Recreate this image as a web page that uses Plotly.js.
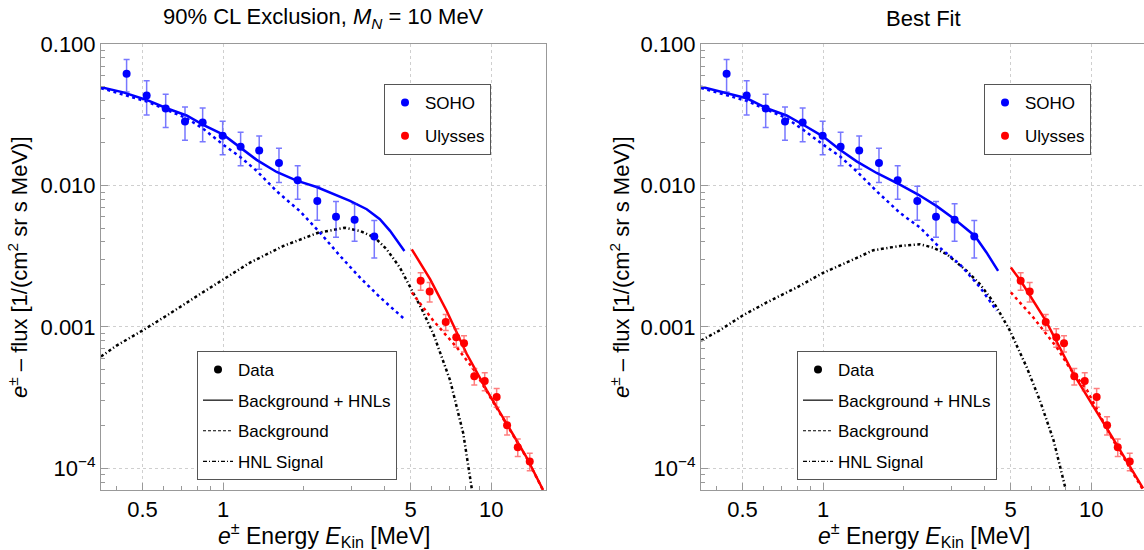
<!DOCTYPE html>
<html>
<head>
<meta charset="utf-8">
<script src="https://cdn.plot.ly/plotly-3.0.1.min.js"></script>
<style>
html,body{margin:0;padding:0;overflow:hidden;background:#fff;}
#chart{width:1150px;height:550px;}
</style>
</head>
<body>
<div id="chart"></div>
<script>
// ---------- Data ----------
const sohoE    = [0.436,0.518,0.610,0.720,0.838,0.995,1.161,1.362,1.614,1.895,2.243,2.634,3.09,3.66];
const sohoFlux = [0.0618,0.0433,0.0350,0.0284,0.0279,0.0225,0.01883,0.01773,0.01442,0.01090,0.00779,0.00601,0.00573,0.00437];
const sohoErr  = [0.016,0.0117,0.0093,0.0075,0.0075,0.006,0.005,0.0047,0.0039,0.0029,0.0021,0.0017,0.0017,0.0013];

const ulyE    = [5.45,5.89,6.76,7.40,7.91,8.64,9.45,10.47,11.45,12.55,13.91];
const ulyFlux = [0.00212,0.001782,0.001084,0.000845,0.000766,0.000449,0.000414,0.000319,0.000202,0.0001413,0.000112];
const ulyErr  = [0.0003,0.00028,0.00014,0.000125,0.0001,0.00006,0.00006,0.000048,0.00003,0.00002,0.000016];

// Left panel: 90% CL exclusion, M_N = 10 MeV
const exclTotSohoE = [0.35,0.424,0.518,0.615,0.730,0.842,1.0,1.154,1.332,1.582,1.879,2.23,2.573,2.97,3.43,3.84,4.19,4.50,4.74];
const exclTotSohoF = [0.0495,0.0456,0.0403,0.0352,0.0313,0.0269,0.0229,0.0186,0.0152,0.01247,0.01084,0.00977,0.0087,0.0078,0.0068,0.00578,0.00478,0.00400,0.00345];
const exclBgSohoE  = [0.35,0.518,0.615,0.730,0.842,1.0,1.154,1.332,1.582,1.932,2.297,2.727,3.24,3.85,4.74];
const exclBgSohoF  = [0.0489,0.0393,0.0343,0.0299,0.0252,0.01945,0.0160,0.0127,0.00912,0.00659,0.00464,0.00318,0.00223,0.001616,0.001137];
const exclSigE = [0.35,0.400,0.499,0.615,0.819,1.003,1.258,1.675,2.26,2.845,3.24,3.68,4.07,4.56,4.98,5.50,6.08,7.02,7.86,8.45];
const exclSigF = [0.000618,0.000738,0.000942,0.001202,0.001707,0.00218,0.00285,0.003737,0.00464,0.00503,0.00477,0.00428,0.00354,0.00263,0.00190,0.00134,0.000893,0.000419,0.0001764,0.0000723];
const exclTotUlyE = [5.05,5.91,6.81,8.09,9.62,11.4,13.5,15.6];
const exclTotUlyF = [0.00354,0.00218,0.001303,0.000646,0.000356,0.0002075,0.0001208,0.0000703];
const exclBgUlyE  = [5.05,6.08,7.43,8.6,9.62,11.4,13.5,15.6];
const exclBgUlyF  = [0.001754,0.001107,0.000718,0.00050,0.000350,0.000205,0.000120,0.0000700];

// Right panel: best fit
const bfTotSohoE = [0.35,0.518,0.615,0.730,0.842,1.0,1.154,1.332,1.582,1.932,2.26,2.65,3.10,3.68,4.07,4.49];
const bfTotSohoF = [0.050,0.0414,0.0352,0.0313,0.0269,0.0222,0.0179,0.01483,0.01227,0.01016,0.00864,0.00715,0.00576,0.0044,0.00335,0.00249];
const bfBgSohoE  = [0.35,0.518,0.730,0.842,1.0,1.154,1.332,1.582,1.932,2.30,2.72,3.23,3.85,4.44];
const bfBgSohoF  = [0.0489,0.0397,0.0299,0.0248,0.01945,0.0161,0.01261,0.00912,0.00641,0.00503,0.00364,0.00278,0.0019,0.0013];
const bfSigE = [0.35,0.409,0.499,0.615,0.796,1.003,1.258,1.536,1.932,2.296,2.573,2.89,3.43,3.84,4.19,4.44,4.97,5.74,6.43,7.23,7.98];
const bfSigF = [0.000801,0.000942,0.0012,0.00149,0.0019,0.002424,0.002927,0.003485,0.003737,0.00384,0.00364,0.00327,0.00249,0.00201,0.001616,0.001374,0.000942,0.000519,0.000302,0.000158,0.0000742];
const bfTotUlyE = [5.01,5.45,6.76,8.57,11.9,15.6];
const bfTotUlyF = [0.00263,0.00212,0.001108,0.000467,0.000169,0.0000723];
const bfBgUlyE  = [5.01,6.07,7.43,8.34,9.62,11.9,15.6];
const bfBgUlyF  = [0.001754,0.00117,0.000718,0.000506,0.00036,0.000165,0.0000705];

// Ticks
const xTickVals = [0.5,1,5,10];
const xTickText = ['0.5','1','5','10'];
const xMinor = [0.4,0.6,0.7,0.8,0.9,2,3,4,6,7,8,9];
const yTickVals = [1e-4,1e-3,1e-2,1e-1];
const yTickText = ['10<sup>−4</sup>','0.001','0.010','0.100'];
const yMinor = [];
[1e-5,1e-4,1e-3,1e-2].forEach(d => { for (let k=2;k<=9;k++) yMinor.push(k*d); });

const panelTitles = ['90% CL Exclusion, <i>M</i><sub><i>N</i></sub> = 10 MeV', 'Best Fit'];
const legendNames = ['SOHO','Ulysses','Data','Background + HNLs','Background','HNL Signal'];

// ---------- Styles ----------
const BLUE = 'rgb(0,0,255)', RED = 'rgb(255,0,0)';
const DOT = '3px,3.5px';
const DASHDOT = '3px,2.5px,1.2px,2.5px';
const FONT = 'Liberation Sans, Arial, Helvetica, sans-serif';
const TXT = 22;

function line(x, y, color, dash, xa, ya) {
  return {x:x, y:y, type:'scatter', mode:'lines', xaxis:xa, yaxis:ya, showlegend:false,
          hoverinfo:'skip', line:{color:color, width:2.5, dash:dash}};
}
function pts(x, y, err, color, xa, ya) {
  return {x:x, y:y, type:'scatter', mode:'markers', xaxis:xa, yaxis:ya, showlegend:false,
          marker:{color:color, size:8},
          error_y:{type:'data', array:err, visible:true, color:color==BLUE?'rgba(30,30,255,0.6)':'rgba(255,40,40,0.6)', thickness:1.5, width:3}};
}
function legMarker(name, color, leg, grp) {
  return {x:[null], y:[null], type:'scatter', mode:'markers', name:name, legend:leg, legendgroup:grp,
          marker:{color:color, size:8}};
}
function legLine(name, dash, leg, grp) {
  return {x:[null], y:[null], type:'scatter', mode:'lines', name:name, legend:leg, legendgroup:grp,
          line:{color:'black', width:1.2, dash:dash}};
}

const traces = [];
function panel(xa, ya, bgS, bgSF, totS, totSF, sig, sigF, bgU, bgUF, totU, totUF, legA, legB) {
  traces.push(line(sig, sigF, 'black', DASHDOT, xa, ya));
  traces.push(line(bgS, bgSF, BLUE, DOT, xa, ya));
  traces.push(line(bgU, bgUF, RED, DOT, xa, ya));
  traces.push(line(totS, totSF, BLUE, 'solid', xa, ya));
  traces.push(line(totU, totUF, RED, 'solid', xa, ya));
  traces.push(pts(sohoE, sohoFlux, sohoErr, BLUE, xa, ya));
  traces.push(pts(ulyE, ulyFlux, ulyErr, RED, xa, ya));
  traces.push(legMarker(legendNames[0], BLUE, legA, legA+'a'));
  traces.push(legMarker(legendNames[1], RED, legA, legA+'b'));
  traces.push(legMarker(legendNames[2], 'black', legB, legB+'a'));
  traces.push(legLine(legendNames[3], 'solid', legB, legB+'b'));
  traces.push(legLine(legendNames[4], '3px,2px', legB, legB+'c'));
  traces.push(legLine(legendNames[5], '4px,2px,1px,2px', legB, legB+'d'));
}
panel('x','y', exclBgSohoE, exclBgSohoF, exclTotSohoE, exclTotSohoF, exclSigE, exclSigF,
      exclBgUlyE, exclBgUlyF, exclTotUlyE, exclTotUlyF, 'legend','legend2');
panel('x2','y2', bfBgSohoE, bfBgSohoF, bfTotSohoE, bfTotSohoF, bfSigE, bfSigF,
      bfBgUlyE, bfBgUlyF, bfTotUlyE, bfTotUlyF, 'legend3','legend4');

// ---------- Layout ----------
const W = 1150, H = 550, ML = 101, MR = 4, MT = 44, MB = 60;
const PW = W - ML - MR, PH = H - MT - MB;
const px2x = p => (p - ML) / PW;
const py2y = p => 1 - (p - MT) / PH;

function xAxis(domain, anchor) {
  return {type:'log', domain:domain, anchor:anchor, range:[-0.456, 1.204],
    tickmode:'array', tickvals:xTickVals, ticktext:xTickText, ticks:'inside', ticklen:7, tickwidth:1,
    tickcolor:'#999', showline:true, linecolor:'#999', linewidth:1, mirror:true,
    showgrid:true, gridcolor:'#cfcfcf', griddash:'3px,3px', gridwidth:1, zeroline:false,
    tickfont:{family:FONT, size:TXT, color:'black'},
    minor:{tickmode:'array', tickvals:xMinor, ticks:'inside', ticklen:4, tickcolor:'#999', showgrid:false}};
}
function yAxis(anchor) {
  return {type:'log', domain:[0,1], anchor:anchor, range:[-4.153, -0.999],
    tickmode:'array', tickvals:yTickVals, ticktext:yTickText, ticks:'inside', ticklen:7, tickwidth:1,
    tickcolor:'#999', showline:true, linecolor:'#999', linewidth:1, mirror:true,
    showgrid:true, gridcolor:'#cfcfcf', griddash:'3px,3px', gridwidth:1, zeroline:false,
    tickfont:{family:FONT, size:TXT, color:'black'},
    minor:{tickmode:'array', tickvals:yMinor, ticks:'inside', ticklen:4, tickcolor:'#999', showgrid:false}};
}
function legendBox(xp, yp, gap) {
  return {x:px2x(xp), y:py2y(yp), xanchor:'left', yanchor:'top', bgcolor:'white',
    bordercolor:'#555', borderwidth:1, font:{family:FONT, size:17, color:'black'},
    tracegroupgap:gap, traceorder:'grouped', itemwidth:30};
}

const yTitle = '<i>e</i><sup>±</sup> – flux [1/(cm<sup>2</sup> sr s MeV)]';
const xTitle = '<i>e</i><sup>±</sup> Energy <i>E</i><sub>Kin</sub> [MeV]';
const ann = [];
[[0, 323.5, 18], [1, 923.5, 620]].forEach(([i, cx, yx]) => {
  ann.push({text:panelTitles[i], xref:'paper', yref:'paper', x:px2x(cx), y:py2y(18),
            xanchor:'center', yanchor:'middle', showarrow:false, font:{family:FONT, size:TXT, color:'black'}});
  ann.push({text:xTitle, xref:'paper', yref:'paper', x:px2x(cx), y:py2y(535),
            xanchor:'center', yanchor:'middle', showarrow:false, font:{family:FONT, size:TXT+1, color:'black'}});
  ann.push({text:yTitle, xref:'paper', yref:'paper', x:px2x(yx), y:0.5, textangle:-90,
            xanchor:'center', yanchor:'middle', showarrow:false, font:{family:FONT, size:TXT, color:'black'}});
});

const layout = {
  width:W, height:H, margin:{l:ML, r:MR, t:MT, b:MB},
  paper_bgcolor:'white', plot_bgcolor:'white', font:{family:FONT, color:'black'},
  xaxis: xAxis([0, px2x(546)], 'y'),
  yaxis: yAxis('x'),
  xaxis2: xAxis([px2x(701), 1], 'y2'),
  yaxis2: yAxis('x2'),
  legend: legendBox(384, 84, 8),
  legend2: legendBox(197, 351, 5.5),
  legend3: legendBox(984, 84, 8),
  legend4: legendBox(797, 351, 5.5),
  annotations: ann,
  showlegend:true
};

Plotly.newPlot('chart', traces, layout, {displayModeBar:false, staticPlot:true});
</script>
</body>
</html>
